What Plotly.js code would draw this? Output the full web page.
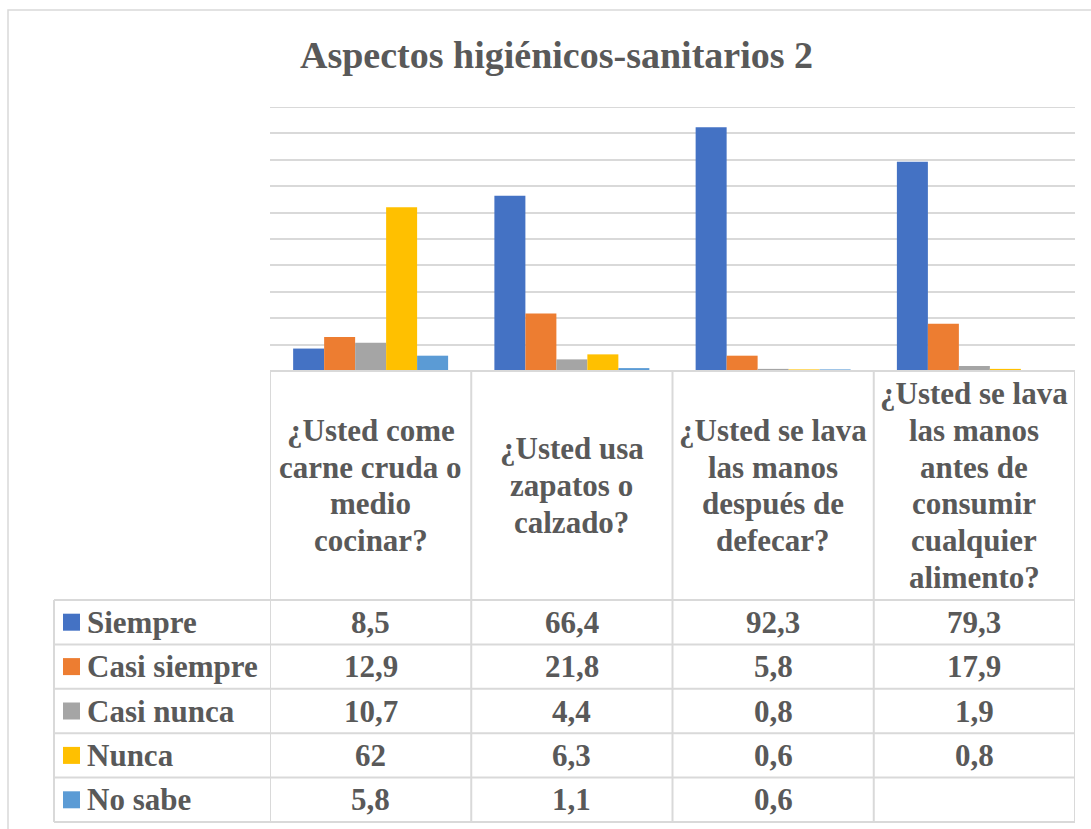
<!DOCTYPE html>
<html>
<head>
<meta charset="utf-8">
<script src="https://cdn.plot.ly/plotly-3.0.1.min.js"></script>
<style>html,body{margin:0;padding:0;background:#fff;}#chart{width:1091px;height:829px;}</style>
</head>
<body>
<div id="chart"></div>
<script>
// ---- data ----
var categories = [
  "¿Usted come<br>carne cruda o<br>medio<br>cocinar?",
  "¿Usted usa<br>zapatos o<br>calzado?",
  "¿Usted se lava<br>las manos<br>después de<br>defecar?",
  "¿Usted se lava<br>las manos<br>antes de<br>consumir<br>cualquier<br>alimento?"
];
var seriesNames = ["Siempre", "Casi siempre", "Casi nunca", "Nunca", "No sabe"];
var siempre = [8.5, 66.4, 92.3, 79.3];
var casiSiempre = [12.9, 21.8, 5.8, 17.9];
var casiNunca = [10.7, 4.4, 0.8, 1.9];
var nunca = [62, 6.3, 0.6, 0.8];
var noSabe = [5.8, 1.1, 0.6, null];
var seriesValues = [siempre, casiSiempre, casiNunca, nunca, noSabe];
var seriesColors = ["#4472C4", "#ED7D31", "#A5A5A5", "#FFC000", "#5B9BD5"];
var chartTitle = "Aspectos higiénicos-sanitarios 2";
var yMax = 100;

// ---- geometry helpers (pixel -> paper) ----
var W = 1091, H = 829;
function px(x) { return x / W; }
function py(y) { return 1 - y / H; }

var FONT = "Liberation Serif, Times New Roman, serif";
var TXT = "#595959";
var LINE = "#d9d9d9";
var catIdx = categories.map(function (c, i) { return i; });

var traces = seriesValues.map(function (vals, s) {
  return {
    type: "bar",
    name: seriesNames[s],
    x: catIdx,
    y: vals,
    marker: { color: seriesColors[s], line: { width: 0 } },
    hoverinfo: "y+name"
  };
});

var tableTop = 371, headerBottom = 600, rowH = 44.4, tableLeft = 54;
var nRows = seriesNames.length;
var tableBottom = headerBottom + rowH * nRows;

var shapes = [];
var annotations = [];

// outer chart border
shapes.push({ type: "rect", xref: "paper", yref: "paper", x0: px(8), x1: px(1100), y0: py(10), y1: py(840),
  line: { color: LINE, width: 1.5 }, fillcolor: "rgba(0,0,0,0)", layer: "below" });

// top gridline at the axis maximum (Plotly omits the edge gridline)
shapes.push({ type: "line", xref: "x", yref: "y", x0: -0.5, x1: categories.length - 0.5,
  y0: yMax, y1: yMax, line: { color: LINE, width: 2 }, layer: "below" });

// table: top line over data columns
shapes.push({ type: "line", xref: "x", yref: "paper", x0: -0.5, x1: categories.length - 0.5,
  y0: py(tableTop), y1: py(tableTop), line: { color: LINE, width: 2 } });
// vertical column boundaries
for (var c = 0; c <= categories.length; c++) {
  shapes.push({ type: "line", xref: "x", yref: "paper", x0: c - 0.5, x1: c - 0.5,
    y0: py(tableTop), y1: py(tableBottom), line: { color: LINE, width: 2 } });
}
// left border of legend column
shapes.push({ type: "line", xref: "paper", yref: "paper", x0: px(tableLeft), x1: px(tableLeft),
  y0: py(headerBottom), y1: py(tableBottom), line: { color: LINE, width: 2 } });
// horizontal row lines
for (var r = 0; r <= nRows; r++) {
  var yy = headerBottom + r * rowH;
  shapes.push({ type: "line", xref: "paper", yref: "paper", x0: px(tableLeft), x1: px(270),
    y0: py(yy), y1: py(yy), line: { color: LINE, width: 2 } });
  shapes.push({ type: "line", xref: "x", yref: "paper", x0: -0.5, x1: categories.length - 0.5,
    y0: py(yy), y1: py(yy), line: { color: LINE, width: 2 } });
}

// category header labels (one annotation per line for Excel-like line spacing)
var headerMid = (tableTop + headerBottom) / 2;
var lineStep = 36.7;
categories.forEach(function (lab, i) {
  var lines = lab.split("<br>");
  lines.forEach(function (t, j) {
    var yc = headerMid + (j - (lines.length - 1) / 2) * lineStep;
    annotations.push({ xref: "x", yref: "paper", x: i, y: py(yc), xanchor: "center", yanchor: "middle",
      text: "<b>" + t + "</b>", showarrow: false, font: { family: FONT, size: 31, color: TXT } });
  });
});

// rows: legend keys, labels, values
seriesNames.forEach(function (name, s) {
  var yc = headerBottom + (s + 0.5) * rowH;
  shapes.push({ type: "rect", xref: "paper", yref: "paper", x0: px(63), x1: px(80),
    y0: py(yc - 8.5), y1: py(yc + 8.5), fillcolor: seriesColors[s], line: { width: 0 } });
  annotations.push({ xref: "paper", yref: "paper", x: px(85), y: py(yc), xanchor: "left", yanchor: "middle",
    text: "<b>" + name + "</b>", showarrow: false, font: { family: FONT, size: 31, color: TXT } });
  seriesValues[s].forEach(function (v, i) {
    if (v === null || v === undefined) return;
    annotations.push({ xref: "x", yref: "paper", x: i, y: py(yc), xanchor: "center", yanchor: "middle",
      text: "<b>" + String(v).replace(".", ",") + "</b>", showarrow: false,
      font: { family: FONT, size: 31, color: TXT } });
  });
});

var layout = {
  width: W, height: H,
  margin: { l: 0, r: 0, t: 0, b: 0, pad: 0 },
  paper_bgcolor: "#ffffff", plot_bgcolor: "#ffffff",
  showlegend: false,
  barmode: "group", bargap: 0.23, bargroupgap: 0,
  title: { text: "<b>" + chartTitle + "</b>", x: px(556.5), y: py(55), xanchor: "center", yanchor: "middle",
    xref: "paper", yref: "paper", font: { family: FONT, size: 38, color: TXT } },
  xaxis: { domain: [px(270), px(1075)], range: [-0.5, categories.length - 0.5], showticklabels: false,
    showgrid: false, zeroline: false, showline: false, ticks: "", fixedrange: true },
  yaxis: { domain: [py(tableTop), py(107)], range: [0, yMax], dtick: 10, showticklabels: false,
    showgrid: true, gridcolor: LINE, gridwidth: 2, zeroline: false, showline: false, ticks: "", fixedrange: true },
  shapes: shapes,
  annotations: annotations
};

Plotly.newPlot("chart", traces, layout, { displayModeBar: false, staticPlot: true });
</script>
</body>
</html>
